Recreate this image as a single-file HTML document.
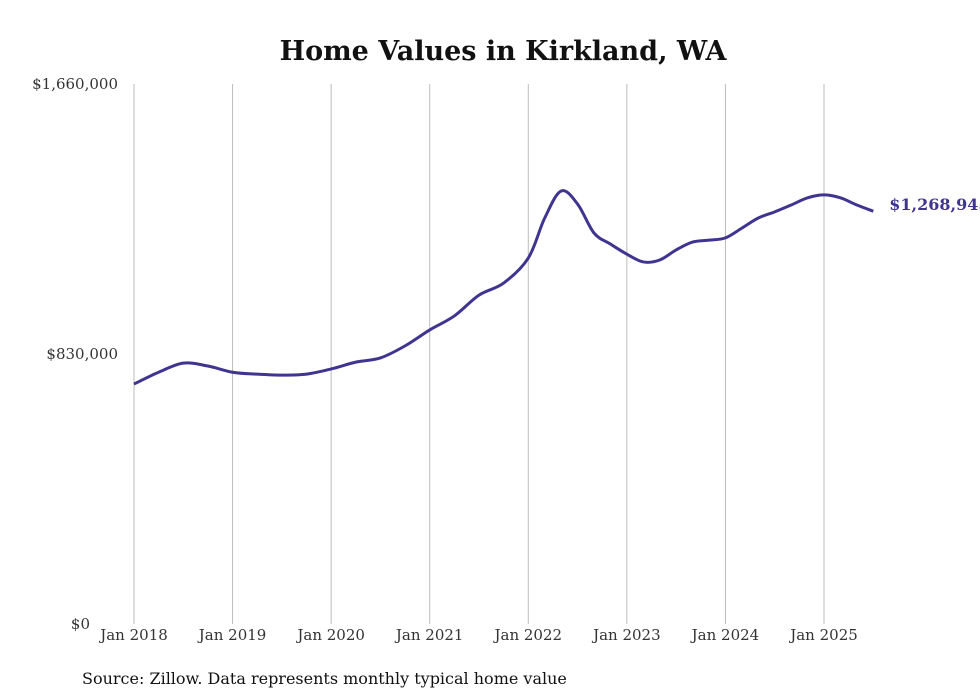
<!DOCTYPE html>
<html><head><meta charset="utf-8"><style>
body{margin:0;background:#fff;}
svg{display:block;}
</style></head><body>
<svg id="chart" width="980" height="699" xmlns="http://www.w3.org/2000/svg">
<text x="503" y="60" text-anchor="middle" font-family="DejaVu Serif, serif" font-weight="bold" font-size="27" fill="#111">Home Values in Kirkland, WA</text>
<g id="grid"></g><g id="yticks"></g><g id="xticks"></g>
<path id="line" fill="none" stroke="#3f3590" stroke-width="3"/>
<text id="endlabel" font-family="DejaVu Serif, serif" font-weight="bold" font-size="16" fill="#3f3590"></text>
<text x="82" y="684" font-family="DejaVu Serif, serif" font-size="16" fill="#111">Source: Zillow. Data represents monthly typical home value</text>
</svg>
<script>
const months=[0,3,6,9,12,15,18,21,24,27,30,33,36,39,42,45,48,50,52,54,56,58,60,62,64,66,68,70,72,74,76,78,80,82,84,86,88,90];
const values=[737800,774000,802000,793000,774000,768000,765000,768000,784000,805000,818000,855000,904000,947000,1011000,1048000,1125000,1248000,1331000,1291000,1202000,1168000,1137000,1113000,1119000,1150000,1174000,1180000,1187000,1217000,1248000,1267000,1288000,1310000,1319000,1310000,1288000,1268945];
const yTicks=[0,830000,1660000];
const yTickLabels=["$0","$830,000","$1,660,000"];
const xTickYears=[2018,2019,2020,2021,2022,2023,2024,2025];
const lastLabel="$1,268,945";
const NS="http://www.w3.org/2000/svg";
const x=m=>134+m*(690/84);
const y=v=>624-v/1660000*540;
const grid=document.getElementById('grid'),yt=document.getElementById('yticks'),xt=document.getElementById('xticks');
xTickYears.forEach((yr,i)=>{
 const gx=x((yr-2018)*12);
 const l=document.createElementNS(NS,'line');
 
 
 l.setAttribute('x1',gx);l.setAttribute('x2',gx);l.setAttribute('y1',84);l.setAttribute('y2',624);
 l.setAttribute('stroke','#bbb');l.setAttribute('stroke-width','1');grid.appendChild(l);
 const t=document.createElementNS(NS,'text');
 
 
 t.setAttribute('x',gx);t.setAttribute('y',640);t.setAttribute('text-anchor','middle');
 t.setAttribute('font-family','DejaVu Serif, serif');t.setAttribute('font-size','15');t.setAttribute('fill','#333');
 t.textContent='Jan '+yr;xt.appendChild(t);
});
yTicks.forEach((v,i)=>{
 const t=document.createElementNS(NS,'text');
 
 
 t.setAttribute('x',v===0?90:118);t.setAttribute('y',y(v)+5);t.setAttribute('text-anchor','end');
 t.setAttribute('font-family','DejaVu Serif, serif');t.setAttribute('font-size','15');t.setAttribute('fill','#333');
 t.textContent=yTickLabels[i];yt.appendChild(t);
});
const pts=months.map((m,i)=>[x(m),y(values[i])]);
let d='M'+pts[0][0]+','+pts[0][1];
for(let i=0;i<pts.length-1;i++){
 const p0=pts[Math.max(0,i-1)],p1=pts[i],p2=pts[i+1],p3=pts[Math.min(pts.length-1,i+2)];
 const c1=[p1[0]+(p2[0]-p0[0])/6,p1[1]+(p2[1]-p0[1])/6];
 const c2=[p2[0]-(p3[0]-p1[0])/6,p2[1]-(p3[1]-p1[1])/6];
 d+=` C${c1[0]},${c1[1]} ${c2[0]},${c2[1]} ${p2[0]},${p2[1]}`;
}
document.getElementById('line').setAttribute('d',d);
const el=document.getElementById('endlabel');
const lp=pts[pts.length-1];
el.setAttribute('x',lp[0]+16);el.setAttribute('y',lp[1]-1);
el.textContent=lastLabel;
</script>
</body></html>
